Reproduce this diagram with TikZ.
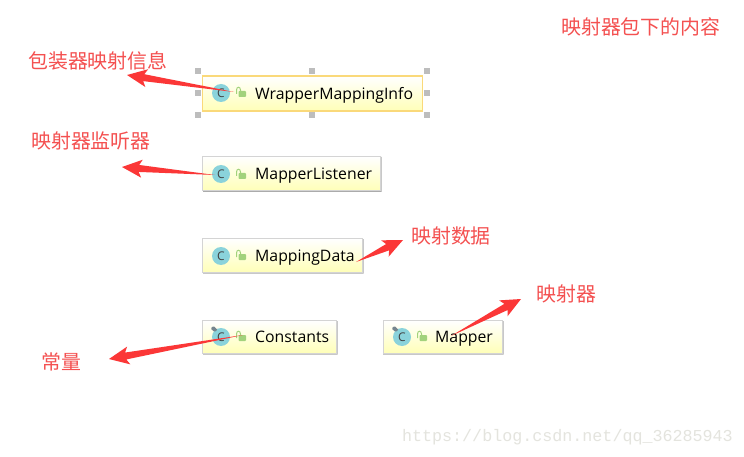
\documentclass[tikz,border=0pt]{standalone}
\usepackage{fontspec}
\setmainfont{Open Sans}
\newfontfamily\cjk{Noto Sans CJK SC}[Scale=1]
\newfontfamily\wmfont{Liberation Mono}
\usetikzlibrary{calc,shadings}
\definecolor{redtxt}{HTML}{F45050}
\definecolor{redarrow}{HTML}{FB3737}
\definecolor{boxedge}{HTML}{D4D4D4}
\definecolor{boxshadow}{HTML}{ABABAB}
\definecolor{seledge}{HTML}{FAD97A}
\definecolor{boxyellow}{HTML}{FFFFB8}
\definecolor{icon}{HTML}{8AD3DB}
\definecolor{lockgreen}{HTML}{A2D27C}
\definecolor{handle}{HTML}{BDBDBD}
\definecolor{wm}{HTML}{E4E4DE}
\definecolor{pincolor}{HTML}{76858E}
\tikzset{
  x=1pt,y=-1pt,
  classbox/.style={rectangle,draw=boxedge,line width=1.2pt,top color=white,bottom color=boxyellow,minimum width=#1,anchor=north west,inner sep=0pt},
  selbox/.style={rectangle,draw=seledge,line width=1.8pt,top color=white,bottom color=boxyellow,minimum width=#1,anchor=north west,inner sep=0pt},
  iconc/.style={circle,fill=icon,minimum size=18pt,inner sep=0pt,text=black!75,font=\fontsize{12}{12}\selectfont},
  classlabel/.style={anchor=west,inner sep=0pt,font=\fontsize{15.8}{15.8}\selectfont,text=black},
  note/.style={anchor=west,inner sep=0pt,text=redtxt,font=\cjk\fontsize{19.9}{19.9}\selectfont},
  handlebox/.style={rectangle,fill=handle,minimum size=5.5pt,inner sep=0pt},
  redtip/.style={fill=redarrow,draw=none}
}
\newcommand{\lockat}[1]{%
  \draw[lockgreen,line width=1pt] ($(#1)+(-3.5,3)$) -- ($(#1)+(-3.5,-1)$) .. controls ($(#1)+(-3.5,-4.6)$) and ($(#1)+(.5,-4.6)$) .. ($(#1)+(.5,-1)$) -- ($(#1)+(.5,1)$);
  \fill[lockgreen,rounded corners=.8pt] ($(#1)+(-1.5,0)$) rectangle ($(#1)+(6,6)$);
}
\newcommand{\pinat}[1]{%
  \fill[pincolor,rounded corners=1pt] ($(#1)+(-10.5,-8.5)$) -- ($(#1)+(-7.5,-11)$) -- ($(#1)+(-3.5,-7)$) -- ($(#1)+(-6.5,-5)$) -- cycle;
}
\newcommand{\tapered}[2]{%
  \fill[redtip] (#1) -- ($($(#2)!17pt!(#1)$)!3.5pt!90:(#1)$) -- ($($(#2)!20pt!(#1)$)!9pt!90:(#1)$) -- (#2)
     -- ($($(#2)!20pt!(#1)$)!9pt!-90:(#1)$) -- ($($(#2)!17pt!(#1)$)!3.5pt!-90:(#1)$) -- cycle;
}
\begin{document}
\begin{tikzpicture}
\useasboundingbox[fill=white] (0,0) rectangle (744,457);

% selection handles
\foreach \n/\hx/\hy in {h1/198/71,h2/312/71,h3/427/71,h4/198/93,h5/427/93,h6/198/115,h7/312/115,h8/427/115}
  \node[handlebox] (\n) at (\hx,\hy) {};

% class boxes
\node[selbox=220pt,minimum height=35pt] (wmi) at (201.5,75) {};
\fill[boxshadow] (203,190) rectangle (381,192) (379.5,157) rectangle (381.5,192);
\node[classbox=177.5pt,minimum height=34pt] (ml) at (202,156) {};
\fill[boxshadow] (203,271.5) rectangle (363,273.5) (361.5,239) rectangle (363.5,273.5);
\node[classbox=159.5pt,minimum height=33.5pt] (md) at (202,238) {};
\fill[boxshadow] (203,352.5) rectangle (337,354.5) (335.5,321) rectangle (337.5,354.5);
\node[classbox=133.5pt,minimum height=32.5pt] (con) at (202,320) {};
\fill[boxshadow] (383,352.5) rectangle (503,354.5) (501.5,321) rectangle (503.5,354.5);
\node[classbox=119pt,minimum height=32.5pt] (map) at (382.5,320) {};

% icons
\node[iconc] (iw) at (221,93) {C};
\node[iconc] (il) at (221,174) {C};
\node[iconc] (id) at (221,256) {C};
\node[iconc] (ic) at (221,337) {C};
\node[iconc] (im) at (402,337) {C};
\pinat{ic}
\pinat{im}

% locks
\coordinate (lw) at (240,91); \lockat{lw}
\coordinate (ll) at (240,173); \lockat{ll}
\coordinate (ld) at (240,254); \lockat{ld}
\coordinate (lc) at (240,335); \lockat{lc}
\coordinate (lm) at (421,335); \lockat{lm}

% class names
\node[classlabel] (tw) at (255,95) {WrapperMappingInfo};
\node[classlabel] (tl) at (255,176) {MapperListener};
\node[classlabel] (td) at (255,257.5) {MappingData};
\node[classlabel] (tc) at (255,337) {Constants};
\node[classlabel] (tm) at (435,339) {Mapper};

% red notes
\node[note] (n0) at (561,27) {映射器包下的内容};
\node[note] (n1) at (28,61) {包装器映射信息};
\node[note] (n2) at (31,141) {映射器监听器};
\node[note] (n3) at (411,236) {映射数据};
\node[note] (n4) at (536,294) {映射器};
\node[note] (n5) at (41,362) {常量};

% arrows
\coordinate (s1) at (234,92);  \coordinate (t1) at (127,75);
\coordinate (s2) at (215,175); \coordinate (t2) at (122,167);
\coordinate (s3) at (356,262); \coordinate (t3) at (403,240);
\coordinate (s4) at (243,335); \coordinate (t4) at (109,359);
\coordinate (s5) at (451,336); \coordinate (t5) at (521,299);
\tapered{s1}{t1}
\tapered{s2}{t2}
\tapered{s3}{t3}
\tapered{s4}{t4}
\tapered{s5}{t5}

% watermark
\node[anchor=east,inner sep=0pt,text=wm,font=\wmfont\fontsize{16.7}{16.7}\selectfont] (wmk) at (733,437) {https://blog.csdn.net/qq\_36285943};
\end{tikzpicture}
\end{document}
